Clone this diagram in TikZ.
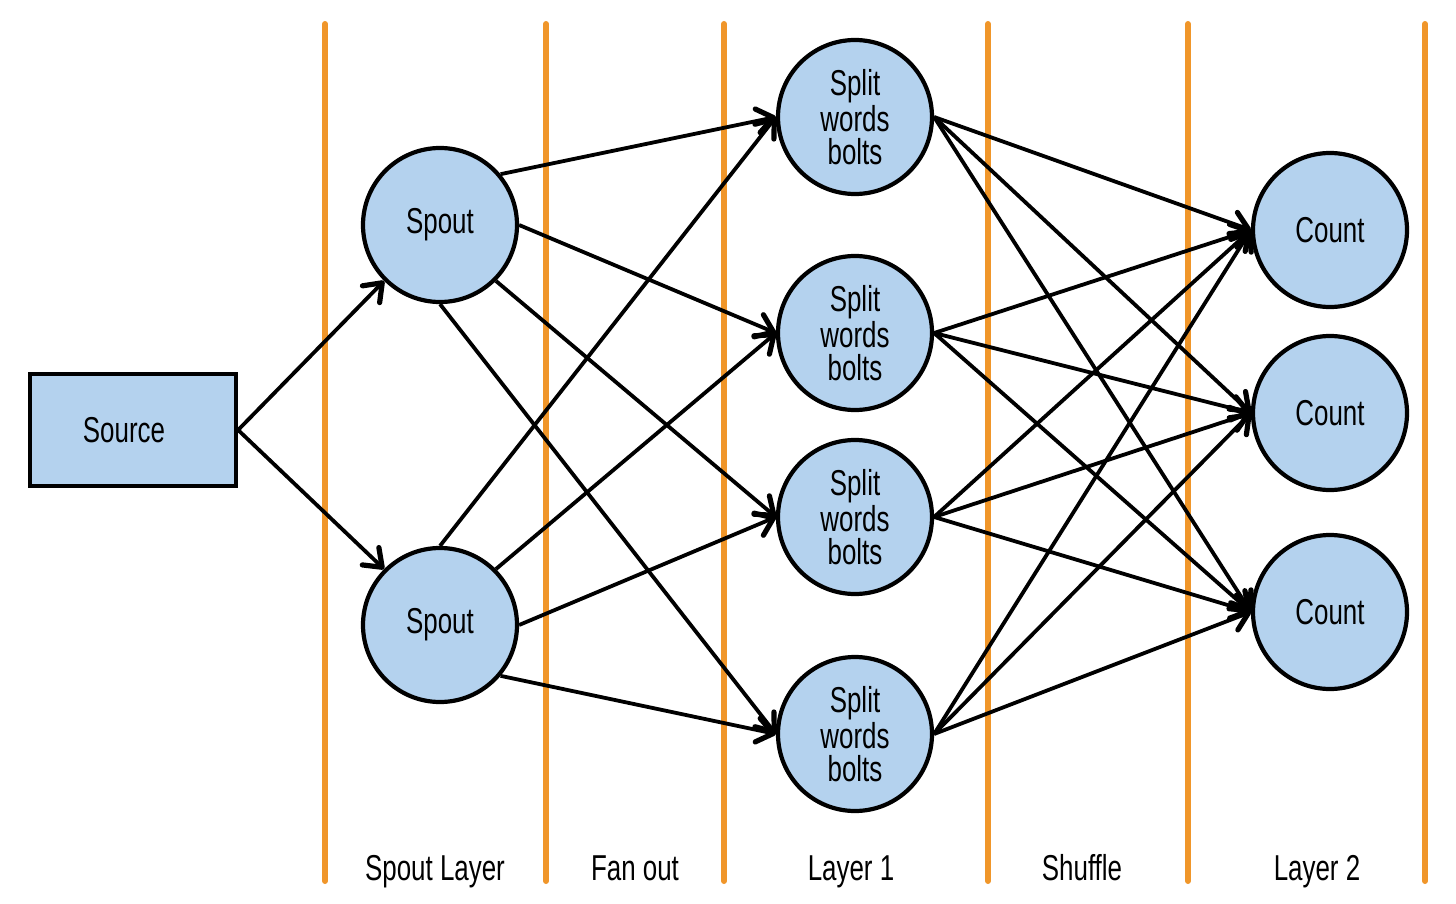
\documentclass[tikz,border=0pt]{standalone}
\usepackage{fontspec}
\setmainfont{Liberation Sans}[FakeStretch=0.72]
\usetikzlibrary{arrows.meta}
\definecolor{nodefill}{RGB}{180,210,238}
\definecolor{lineorange}{RGB}{240,150,42}
\begin{document}
\begin{tikzpicture}[x=0.5pt,y=-0.5pt,
  circ/.style={circle,draw=black,line width=2.1pt,fill=nodefill,minimum size=77pt,inner sep=0pt,align=center,font=\fontsize{18}{16.5}\selectfont},
  srcbox/.style={rectangle,draw=black,line width=2.1pt,fill=nodefill,minimum width=103pt,minimum height=56pt,inner sep=0pt,font=\fontsize{18}{16.5}\selectfont},
  sep/.style={draw=lineorange,line width=3pt,line cap=round},
  lbl/.style={font=\fontsize{18}{18}\selectfont,anchor=base},
  conn/.style={draw=black,line width=1.9pt,-{Straight Barb[length=8pt,width=12pt,line width=2.6pt,round]}}]
\useasboundingbox (0,0) rectangle (1456,904);
% separators
\foreach \xx/\nm in {325/l1,546/l2,724/l3,988/l4,1188/l5,1425/l6}{
  \coordinate (\nm t) at (\xx,24);
  \coordinate (\nm b) at (\xx,881);
  \draw[sep] (\nm t) -- (\nm b);
}
% nodes
\node[srcbox] (src) at (133,430) {\hspace*{-9pt}Source};
\node[circ] (s1) at (440,225) {Spout};
\node[circ] (s2) at (440,625) {Spout};
\node[circ] (p1) at (855,117) {Split\\words\\bolts};
\node[circ] (p2) at (855,333) {Split\\words\\bolts};
\node[circ] (p3) at (855,517) {Split\\words\\bolts};
\node[circ] (p4) at (855,734) {Split\\words\\bolts};
\node[circ] (c1) at (1330,230) {Count};
\node[circ] (c2) at (1330,413) {Count};
\node[circ] (c3) at (1330,612) {Count};
% labels
\node[lbl] (t1) at (435,880) {Spout Layer};
\node[lbl] (t2) at (635,880) {Fan out};
\node[lbl] (t3) at (851,880) {Layer 1};
\node[lbl] (t4) at (1082,880) {Shuffle};
\node[lbl] (t5) at (1317,880) {Layer 2};
% connectors
\draw[conn] (src.east) -- (s1.225);
\draw[conn] (src.east) -- (s2.135);
\draw[conn] (s1.40) -- (p1.west);
\draw[conn] (s1.0) -- (p2.west);
\draw[conn] (s1.-45) -- (p3.west);
\draw[conn] (s1.-90) -- (p4.west);
\draw[conn] (s2.90) -- (p1.west);
\draw[conn] (s2.45) -- (p2.west);
\draw[conn] (s2.0) -- (p3.west);
\draw[conn] (s2.-40) -- (p4.west);
\foreach \p in {p1,p2,p3,p4}{
  \foreach \c in {c1,c2,c3}{
    \draw[conn] (\p.east) -- (\c.west);
  }
}
\end{tikzpicture}
\end{document}
